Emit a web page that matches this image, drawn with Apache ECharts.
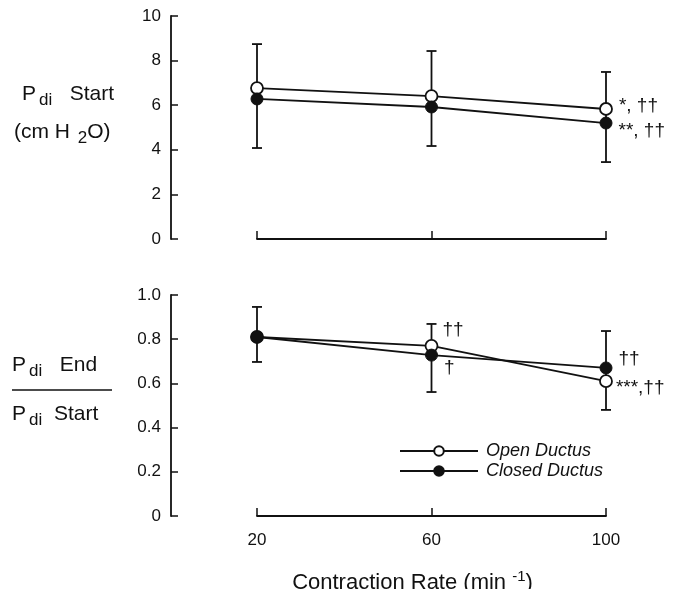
<!DOCTYPE html>
<html><head><meta charset="utf-8">
<script src="https://cdn.jsdelivr.net/npm/echarts@6/dist/echarts.min.js"></script>
<style>html,body{margin:0;padding:0;background:#fff}#c{width:675px;height:589px}</style>
</head><body><div id="c"></div>
<script>
const xCats = ['20', '60', '100'];
const topOpen = [6.77, 6.41, 5.83];
const topClosed = [6.28, 5.92, 5.20];
const topErrLow = [4.08, 4.17, 3.45];
const topErrHigh = [8.74, 8.43, 7.49];
const botOpen = [0.81, 0.77, 0.61];
const botClosed = [0.81, 0.728, 0.67];
const botErrLow = [0.697, 0.561, 0.48];
const botErrHigh = [0.946, 0.869, 0.837];
const topOpenNotes = ['', '', '*, ††'];
const topClosedNotes = ['', '', '**, ††'];
const botOpenNotes = ['', '††', '***,††'];
const botClosedNotes = ['', '†', '††'];
const topTicks = [0, 2, 4, 6, 8, 10];
const botTicks = [0, 0.2, 0.4, 0.6, 0.8, 1.0];

const FONT = '"Liberation Sans", Arial, Helvetica, sans-serif';
const chart = echarts.init(document.getElementById('c'), null, {renderer: 'canvas'});

function withNotes(values, notes, offsets) {
  return values.map((v, i) => {
    if (!notes[i]) return v;
    return {
      value: v,
      label: {
        show: true, formatter: notes[i], position: 'right', distance: 6,
        offset: offsets[i] || [0, 0], color: '#111', fontSize: 19, fontFamily: FONT
      }
    };
  });
}

function errSeries(xi, yi, low, high) {
  return {
    type: 'custom', xAxisIndex: xi, yAxisIndex: yi, z: 1,
    data: low.map((l, i) => [i, l, high[i]]),
    renderItem: function (params, api) {
      const p1 = api.coord([api.value(0), api.value(1)]);
      const p2 = api.coord([api.value(0), api.value(2)]);
      const w = 5;
      const st = {stroke: '#111', lineWidth: 1.8};
      return {type: 'group', children: [
        {type: 'line', shape: {x1: p1[0], y1: p1[1], x2: p2[0], y2: p2[1]}, style: st},
        {type: 'line', shape: {x1: p1[0] - w, y1: p1[1], x2: p1[0] + w, y2: p1[1]}, style: st},
        {type: 'line', shape: {x1: p2[0] - w, y1: p2[1], x2: p2[0] + w, y2: p2[1]}, style: st}
      ]};
    }
  };
}

function lineSeries(name, xi, yi, data, open) {
  return {
    name: name, type: 'line', xAxisIndex: xi, yAxisIndex: yi, z: open ? 3 : 4,
    data: data, symbol: 'circle', symbolSize: 12, showSymbol: true,
    lineStyle: {color: '#111', width: 1.8},
    itemStyle: open ? {color: '#fff', borderColor: '#111', borderWidth: 1.8}
                    : {color: '#111', borderColor: '#111', borderWidth: 1},
    emphasis: {disabled: true},
    animation: false
  };
}

const xAxisBase = {
  type: 'category', data: xCats, boundaryGap: false,
  axisLine: {lineStyle: {color: '#111', width: 1.8}},
  axisTick: {inside: true, length: 8, lineStyle: {color: '#111', width: 1.5}},
  splitLine: {show: false}
};

const yAxisBase = {
  type: 'value', offset: 86,
  axisLine: {show: true, lineStyle: {color: '#111', width: 1.8}},
  axisTick: {show: true, inside: true, length: 7, lineStyle: {color: '#111', width: 1.5}},
  splitLine: {show: false},
  axisLabel: {color: '#111', fontSize: 17, fontFamily: FONT, margin: 10}
};

const rich = {
  a: {fontSize: 21, fontFamily: FONT, fill: '#111'},
  b: {fontSize: 17, fontFamily: FONT, fill: '#111', padding: [12, 0, 0, 3]}
};

const option = {
  backgroundColor: '#fff',
  animation: false,
  grid: [
    {left: 257, right: 69, top: 16, height: 223, outerBoundsMode: 'none', containLabel: false},
    {left: 257, right: 69, top: 295, height: 221, outerBoundsMode: 'none', containLabel: false}
  ],
  xAxis: [
    Object.assign({}, xAxisBase, {gridIndex: 0, axisLabel: {show: false}}),
    Object.assign({}, xAxisBase, {gridIndex: 1,
      axisLabel: {color: '#111', fontSize: 17, fontFamily: FONT, margin: 16},
      name: '{t|Contraction Rate (min }{s|-1}{t|)}', nameLocation: 'middle', nameGap: 53,
      nameTextStyle: {padding: [0, 38, 0, 0], rich: {
        t: {fontSize: 22, fontFamily: FONT, color: '#111'},
        s: {fontSize: 15, fontFamily: FONT, color: '#111', verticalAlign: 'top', padding: [0, 0, 12, 0]}
      }}
    })
  ],
  yAxis: [
    Object.assign({}, yAxisBase, {gridIndex: 0, min: topTicks[0], max: topTicks[topTicks.length - 1], interval: 2}),
    Object.assign({}, yAxisBase, {gridIndex: 1, min: botTicks[0], max: botTicks[botTicks.length - 1], interval: 0.2,
      axisLabel: Object.assign({}, yAxisBase.axisLabel, {formatter: v => v === 0 ? '0' : v.toFixed(1)})})
  ],
  legend: {
    left: 394, top: 437, orient: 'vertical', itemGap: 2,
    itemWidth: 78, itemHeight: 12,
    data: ['Open Ductus', 'Closed Ductus'],
    textStyle: {fontStyle: 'italic', fontSize: 18, fontFamily: FONT, color: '#111', padding: [0, 0, 0, 3]},
    selectedMode: false
  },
  graphic: [
    {type: 'text', left: 22, top: 84, style: {text: '{a|P}{b|di}{a|   Start}', rich: rich}},
    {type: 'text', left: 14, top: 122, style: {text: '{a|(cm H }{b|2}{a|O)}', rich: {
      a: rich.a, b: {fontSize: 17, fontFamily: FONT, fill: '#111', padding: [12, 0, 0, 2]}}}},
    {type: 'text', left: 12, top: 355, style: {text: '{a|P}{b|di}{a|   End}', rich: rich}},
    {type: 'line', shape: {x1: 12, y1: 390, x2: 112, y2: 390}, style: {stroke: '#111', lineWidth: 1.5}},
    {type: 'text', left: 12, top: 404, style: {text: '{a|P}{b|di}{a|  Start}', rich: rich}}
  ],
  series: [
    errSeries(0, 0, topErrLow, topErrHigh),
    errSeries(1, 1, botErrLow, botErrHigh),
    lineSeries('Open Ductus', 0, 0, withNotes(topOpen, topOpenNotes, [null, null, [0, -3]]), true),
    lineSeries('Closed Ductus', 0, 0, withNotes(topClosed, topClosedNotes, [null, null, [0, 8]]), false),
    lineSeries('Open Ductus', 1, 1, withNotes(botOpen, botOpenNotes, [null, [-2, -16], [-3, 7]]), true),
    lineSeries('Closed Ductus', 1, 1, withNotes(botClosed, botClosedNotes, [null, [0, 13], [0, -9]]), false)
  ]
};
chart.setOption(option);
</script></body></html>
